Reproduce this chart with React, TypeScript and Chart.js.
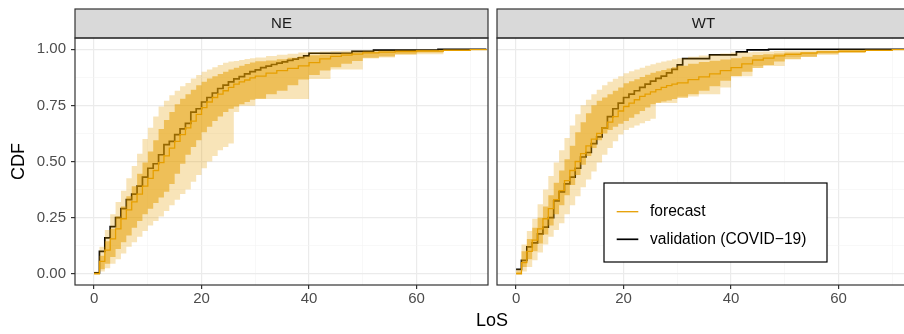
import React, { useEffect, useRef } from "react";
import { Chart, registerables } from "chart.js";

Chart.register(...registerables);

// ---------------- data ----------------
const DAYS = [
  0, 1, 2, 3, 4, 5, 6, 7, 8, 9, 10, 11, 12, 13, 14, 15, 16, 17, 18, 19, 20,
  21, 22, 23, 24, 25, 26, 27, 28, 29, 30, 32, 34, 36, 38, 40, 42, 44, 46, 48,
  50, 53, 56, 60, 65, 70, 73,
];

// NE forecast quantiles
const NE_MED = [
  0.0, 0.055, 0.105, 0.155, 0.2, 0.245, 0.285, 0.32, 0.355, 0.39, 0.425, 0.46,
  0.495, 0.525, 0.56, 0.59, 0.62, 0.65, 0.68, 0.71, 0.74, 0.765, 0.785, 0.8,
  0.815, 0.83, 0.845, 0.855, 0.863, 0.872, 0.88, 0.894, 0.905, 0.915, 0.926,
  0.94, 0.957, 0.968, 0.974, 0.978, 0.984, 0.987, 0.989, 0.992, 0.995, 0.998,
  1.0,
];
const NE_HI95 = [
  0.01, 0.12, 0.195, 0.265, 0.32, 0.37, 0.425, 0.48, 0.535, 0.6, 0.65, 0.7,
  0.745, 0.77, 0.795, 0.815, 0.835, 0.85, 0.87, 0.885, 0.9, 0.91, 0.92, 0.93,
  0.94, 0.945, 0.948, 0.952, 0.956, 0.96, 0.963, 0.97, 0.975, 0.98, 0.985,
  0.988, 0.99, 0.992, 0.993, 0.994, 0.995, 0.997, 0.998, 0.999, 1, 1, 1,
];
const NE_HI50 = [
  0.005, 0.08, 0.145, 0.2, 0.255, 0.3, 0.345, 0.39, 0.445, 0.495, 0.545, 0.595,
  0.645, 0.685, 0.72, 0.755, 0.78, 0.8, 0.82, 0.84, 0.855, 0.87, 0.88, 0.89,
  0.9, 0.91, 0.918, 0.926, 0.934, 0.941, 0.946, 0.95, 0.955, 0.962, 0.968,
  0.973, 0.977, 0.98, 0.984, 0.987, 0.99, 0.992, 0.995, 0.997, 0.999, 1, 1,
];
const NE_LO50 = [
  0.0, 0.02, 0.045, 0.075, 0.11, 0.14, 0.17, 0.205, 0.235, 0.265, 0.29, 0.315,
  0.34, 0.365, 0.4, 0.445, 0.49, 0.53, 0.565, 0.595, 0.63, 0.655, 0.68, 0.7,
  0.72, 0.735, 0.745, 0.755, 0.765, 0.775, 0.78, 0.8, 0.815, 0.84, 0.865,
  0.885, 0.905, 0.92, 0.935, 0.948, 0.96, 0.968, 0.977, 0.985, 0.992, 0.997,
  0.999,
];
const NE_LO95 = [
  0.0, 0.01, 0.025, 0.045, 0.065, 0.09, 0.12, 0.14, 0.165, 0.19, 0.215, 0.235,
  0.255, 0.28, 0.305, 0.33, 0.355, 0.375, 0.41, 0.44, 0.47, 0.5, 0.525, 0.55,
  0.565, 0.58, 0.72, 0.748, 0.748, 0.748, 0.778, 0.778, 0.778, 0.778, 0.778,
  0.867, 0.867, 0.91, 0.91, 0.91, 0.963, 0.963, 0.978, 0.978, 0.993, 0.998, 1,
];
// NE validation (COVID-19) empirical CDF
const NE_VAL_X = [
  0, 1, 2, 3, 4, 5, 6, 7, 8, 9, 10, 11, 12, 13, 14, 15, 16, 17, 18, 19, 20,
  21, 22, 23, 24, 25, 26, 27, 28, 29, 30, 31, 32, 33, 34, 35, 36, 37, 38, 39,
  40, 48, 52, 64, 73,
];
const NE_VAL_Y = [
  0.004, 0.1, 0.16, 0.21, 0.25, 0.29, 0.33, 0.355, 0.39, 0.43, 0.47, 0.49,
  0.53, 0.575, 0.59, 0.62, 0.645, 0.67, 0.72, 0.735, 0.765, 0.785, 0.805,
  0.825, 0.84, 0.855, 0.868, 0.878, 0.89, 0.9, 0.908, 0.918, 0.925, 0.932,
  0.938, 0.944, 0.95, 0.956, 0.962, 0.97, 0.982, 0.99, 0.996, 1.0, 1.0,
];

// WT forecast quantiles
const WT_MED = [
  0.0, 0.05, 0.1, 0.15, 0.2, 0.245, 0.29, 0.33, 0.37, 0.415, 0.46, 0.5, 0.535,
  0.57, 0.6, 0.625, 0.65, 0.675, 0.7, 0.725, 0.745, 0.76, 0.775, 0.79, 0.8,
  0.81, 0.82, 0.83, 0.838, 0.845, 0.85, 0.865, 0.877, 0.89, 0.905, 0.918,
  0.935, 0.952, 0.96, 0.97, 0.977, 0.983, 0.988, 0.991, 0.995, 0.998, 1.0,
];
const WT_HI95 = [
  0.02, 0.13, 0.19, 0.245, 0.31, 0.375, 0.435, 0.495, 0.55, 0.605, 0.66, 0.71,
  0.75, 0.775, 0.8, 0.82, 0.84, 0.855, 0.868, 0.88, 0.893, 0.902, 0.91, 0.918,
  0.926, 0.933, 0.94, 0.945, 0.95, 0.955, 0.96, 0.966, 0.972, 0.977, 0.981,
  0.985, 0.987, 0.989, 0.99, 0.992, 0.994, 0.995, 0.997, 0.999, 1, 1, 1,
];
const WT_HI50 = [
  0.01, 0.1, 0.155, 0.205, 0.25, 0.3, 0.35, 0.405, 0.46, 0.51, 0.57, 0.63,
  0.675, 0.715, 0.75, 0.77, 0.785, 0.8, 0.815, 0.83, 0.848, 0.857, 0.866,
  0.876, 0.886, 0.895, 0.902, 0.908, 0.914, 0.92, 0.926, 0.935, 0.943, 0.949,
  0.954, 0.96, 0.967, 0.974, 0.978, 0.981, 0.985, 0.988, 0.99, 0.994, 0.997,
  0.999, 1,
];
const WT_LO50 = [
  0.0, 0.03, 0.065, 0.1, 0.135, 0.175, 0.215, 0.265, 0.305, 0.35, 0.395, 0.44,
  0.485, 0.525, 0.56, 0.595, 0.625, 0.64, 0.655, 0.668, 0.68, 0.695, 0.71,
  0.725, 0.74, 0.755, 0.762, 0.767, 0.772, 0.778, 0.784, 0.8, 0.815, 0.835,
  0.86, 0.88, 0.9, 0.916, 0.93, 0.945, 0.955, 0.967, 0.977, 0.985, 0.992,
  0.997, 0.999,
];
const WT_LO95 = [
  0.0, 0.01, 0.03, 0.06, 0.095, 0.13, 0.165, 0.195, 0.225, 0.265, 0.305, 0.345,
  0.385, 0.42, 0.455, 0.495, 0.53, 0.56, 0.59, 0.62, 0.64, 0.65, 0.66, 0.67,
  0.68, 0.69, 0.76, 0.76, 0.76, 0.76, 0.79, 0.79, 0.8, 0.8, 0.83, 0.88, 0.88,
  0.925, 0.925, 0.925, 0.965, 0.965, 0.983, 0.983, 0.993, 0.998, 1,
];
// WT validation (COVID-19) empirical CDF
const WT_VAL_X = [
  0, 1, 2, 3, 4, 5, 6, 7, 8, 9, 10, 11, 12, 13, 14, 15, 16, 17, 18, 19, 20,
  21, 22, 23, 24, 25, 26, 27, 28, 29, 30, 31, 36, 41, 43, 47, 73,
];
const WT_VAL_Y = [
  0.02, 0.06, 0.12, 0.138, 0.178, 0.208, 0.25, 0.325, 0.365, 0.4, 0.43, 0.47,
  0.52, 0.54, 0.58, 0.61, 0.65, 0.7, 0.735, 0.76, 0.785, 0.8, 0.815, 0.83,
  0.845, 0.858, 0.87, 0.88, 0.895, 0.91, 0.93, 0.958, 0.975, 0.988, 0.997, 1.0,
  1.0,
];

const X_TICKS = [0, 10, 20, 30, 40, 50, 60, 70];
const X_LABELS = [0, 20, 40, 60];
const Y_TICKS = [0, 0.125, 0.25, 0.375, 0.5, 0.625, 0.75, 0.875, 1];
const Y_LABELS = [0, 0.25, 0.5, 0.75, 1];
const PANELS = ["NE", "WT"];
const LEGEND_LABELS = ["forecast", "validation (COVID\u221219)"];
const X_TITLE = "LoS";
const Y_TITLE = "CDF";

// ---------------- styles ----------------
const FONT = '"Liberation Sans", Arial, Helvetica, sans-serif';
const ORANGE = "#E69F00";
const OUTER_FILL = "rgba(230,159,0,0.28)";
const INNER_FILL = "rgba(230,159,0,0.52)";
const X_MIN = -3.55;
const X_MAX = 73.3;
const Y_MIN = -0.05;
const Y_MAX = 1.05;
const STRIP_TOP = 9;
const PLOT_TOP = 38;
const X_AXIS_H = 49;
const W = 912;
const H = 334;
const TICK_SIZE = 15;
const TITLE_SIZE = 18;

Chart.defaults.font.family = FONT;

function pts(xs: number[], ys: number[]) {
  return xs.map((x, i) => ({ x, y: ys[i] }));
}

function datasets(
  lo95: number[], lo50: number[], med: number[], hi50: number[], hi95: number[],
  vx: number[], vy: number[]
) {
  const base = { pointRadius: 0, pointHoverRadius: 0, stepped: "before" as const, tension: 0 };
  return [
    { ...base, data: pts(DAYS, hi95), fill: "+1", backgroundColor: OUTER_FILL, borderColor: "rgba(0,0,0,0)", borderWidth: 0 },
    { ...base, data: pts(DAYS, lo95), fill: false, borderColor: "rgba(0,0,0,0)", borderWidth: 0 },
    { ...base, data: pts(DAYS, hi50), fill: "+1", backgroundColor: INNER_FILL, borderColor: "rgba(0,0,0,0)", borderWidth: 0 },
    { ...base, data: pts(DAYS, lo50), fill: false, borderColor: "rgba(0,0,0,0)", borderWidth: 0 },
    { ...base, data: pts(DAYS, med), fill: false, borderColor: ORANGE, borderWidth: 1.3 },
    { ...base, data: pts(vx, vy), fill: false, borderColor: "#000000", borderWidth: 1.7 },
  ];
}

const isMajorX = (v: number) => X_LABELS.includes(v);
const isMajorY = (v: number) => Y_LABELS.includes(v);

function xScale() {
  return {
    type: "linear" as const,
    min: X_MIN,
    max: X_MAX,
    afterBuildTicks: (s: any) => { s.ticks = X_TICKS.map((v) => ({ value: v })); },
    afterFit: (s: any) => { s.height = X_AXIS_H; },
    border: { display: false },
    ticks: {
      autoSkip: false,
      maxRotation: 0,
      padding: 1,
      color: "#4D4D4D",
      font: { size: TICK_SIZE },
      callback: (v: any) => (isMajorX(v) ? String(v) : ""),
    },
    grid: {
      color: (c: any) => (isMajorX(c.tick?.value) ? "#EBEBEB" : "#F3F3F3"),
      lineWidth: (c: any) => (isMajorX(c.tick?.value) ? 1.2 : 0.6),
      tickColor: (c: any) => (isMajorX(c.tick?.value) ? "#333333" : "rgba(0,0,0,0)"),
      tickWidth: 1.2,
      tickLength: 4,
    },
  };
}

function yScale(first: boolean) {
  return {
    type: "linear" as const,
    min: Y_MIN,
    max: Y_MAX,
    afterBuildTicks: (s: any) => { s.ticks = Y_TICKS.map((v) => ({ value: v })); },
    afterFit: (s: any) => { s.width = first ? 75 : 0; },
    border: { display: false },
    title: first
      ? { display: true, text: Y_TITLE, color: "#000000", font: { size: TITLE_SIZE }, padding: { top: 8, bottom: 0 } }
      : { display: false },
    ticks: {
      display: first,
      autoSkip: false,
      padding: 5,
      color: "#4D4D4D",
      font: { size: TICK_SIZE },
      callback: (v: any) => (isMajorY(v) ? Number(v).toFixed(2) : ""),
    },
    grid: {
      color: (c: any) => (isMajorY(c.tick?.value) ? "#EBEBEB" : "#F3F3F3"),
      lineWidth: (c: any) => (isMajorY(c.tick?.value) ? 1.2 : 0.6),
      tickColor: (c: any) => (first && isMajorY(c.tick?.value) ? "#333333" : "rgba(0,0,0,0)"),
      tickWidth: 1.2,
      tickLength: first ? 4 : 0,
      drawTicks: first,
    },
  };
}

function panelPlugin(label: string, extra?: (chart: any) => void) {
  return {
    id: "panel" + label,
    afterDraw(chart: any) {
      const { ctx, chartArea: a } = chart;
      ctx.save();
      // strip
      ctx.fillStyle = "#D9D9D9";
      ctx.fillRect(a.left, STRIP_TOP, a.right - a.left, a.top - STRIP_TOP);
      ctx.strokeStyle = "#333333";
      ctx.lineWidth = 1.2;
      ctx.strokeRect(a.left, STRIP_TOP, a.right - a.left, a.top - STRIP_TOP);
      ctx.fillStyle = "#1A1A1A";
      ctx.font = `${TICK_SIZE}px ${FONT}`;
      ctx.textAlign = "center";
      ctx.textBaseline = "middle";
      ctx.fillText(label, (a.left + a.right) / 2, (STRIP_TOP + a.top) / 2 + 0.5);
      // panel border
      ctx.strokeStyle = "#333333";
      ctx.lineWidth = 1.2;
      ctx.strokeRect(a.left, a.top, a.right - a.left, a.bottom - a.top);
      ctx.restore();
      if (extra) extra(chart);
    },
  };
}

function drawXTitle(chart: any) {
  const { ctx } = chart;
  ctx.save();
  ctx.fillStyle = "#000000";
  ctx.font = `${TITLE_SIZE}px ${FONT}`;
  ctx.textAlign = "center";
  ctx.textBaseline = "middle";
  ctx.fillText(X_TITLE, 492, 321);
  ctx.restore();
}

function drawLegend(chart: any) {
  const { ctx, chartArea: a } = chart;
  const left = a.left + 107;
  const top = 183;
  const w = 223;
  const h = 79;
  ctx.save();
  ctx.fillStyle = "#FFFFFF";
  ctx.fillRect(left, top, w, h);
  ctx.strokeStyle = "#000000";
  ctx.lineWidth = 1.2;
  ctx.strokeRect(left, top, w, h);
  const rows = [
    { color: ORANGE, width: 1.3, y: top + 28.7 },
    { color: "#000000", width: 1.7, y: top + 56.3 },
  ];
  rows.forEach((r, i) => {
    ctx.strokeStyle = r.color;
    ctx.lineWidth = r.width;
    ctx.beginPath();
    ctx.moveTo(left + 12.7, r.y);
    ctx.lineTo(left + 34.3, r.y);
    ctx.stroke();
    ctx.fillStyle = "#000000";
    ctx.font = `15.6px ${FONT}`;
    ctx.textAlign = "left";
    ctx.textBaseline = "middle";
    ctx.fillText(LEGEND_LABELS[i], left + 46, r.y);
  });
  ctx.restore();
}

export default function App() {
  const neRef = useRef<HTMLCanvasElement>(null);
  const wtRef = useRef<HTMLCanvasElement>(null);

  useEffect(() => {
    const common = {
      animation: false as const,
      responsive: false,
      maintainAspectRatio: false,
      devicePixelRatio: 1,
      events: [] as any[],
    };
    const ne = new Chart(neRef.current!, {
      type: "line",
      data: {
        datasets: datasets(NE_LO95, NE_LO50, NE_MED, NE_HI50, NE_HI95, NE_VAL_X, NE_VAL_Y) as any,
      },
      options: {
        ...common,
        layout: { padding: { top: PLOT_TOP, right: W - 488, bottom: 0, left: 0 } },
        plugins: { legend: { display: false }, tooltip: { enabled: false } },
        scales: { x: xScale() as any, y: yScale(true) as any },
      },
      plugins: [panelPlugin(PANELS[0], drawXTitle)],
    });
    const wt = new Chart(wtRef.current!, {
      type: "line",
      data: {
        datasets: datasets(WT_LO95, WT_LO50, WT_MED, WT_HI50, WT_HI95, WT_VAL_X, WT_VAL_Y) as any,
      },
      options: {
        ...common,
        layout: { padding: { top: PLOT_TOP, right: 2, bottom: 0, left: 7 } },
        plugins: { legend: { display: false }, tooltip: { enabled: false } },
        scales: { x: xScale() as any, y: yScale(false) as any },
      },
      plugins: [panelPlugin(PANELS[1], drawLegend)],
    });
    return () => {
      ne.destroy();
      wt.destroy();
    };
  }, []);

  return (
    <div style={{ position: "fixed", left: 0, top: 0, width: 904, height: H, overflow: "hidden", background: "#FFFFFF" }}>
      <canvas ref={neRef} width={W} height={H} style={{ position: "absolute", left: 0, top: 0, width: W, height: H }} />
      <canvas ref={wtRef} width={422} height={H} style={{ position: "absolute", left: 490, top: 0, width: 422, height: H }} />
    </div>
  );
}
